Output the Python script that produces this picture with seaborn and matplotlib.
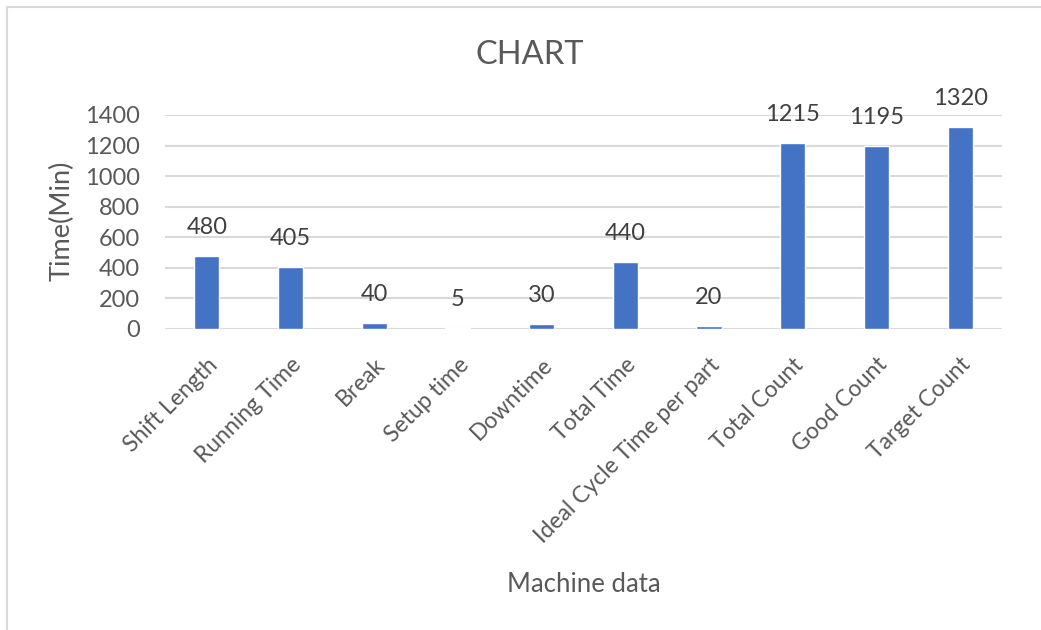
import pandas as pd
import seaborn as sns
import matplotlib.pyplot as plt
from matplotlib.lines import Line2D

# Chart data
categories = ['Shift Length', 'Running Time', 'Break', 'Setup time', 'Downtime',
              'Total Time', 'Ideal Cycle Time per part', 'Total Count', 'Good Count',
              'Target Count']
values = [480, 405, 40, 5, 30, 440, 20, 1215, 1195, 1320]
y_ticks = [0, 200, 400, 600, 800, 1000, 1200, 1400]

df = pd.DataFrame({'item': categories, 'value': values})

sns.set_theme(style='white')
plt.rcParams['font.family'] = ['Lato', 'DejaVu Sans']

text_color = '#595959'
grid_color = '#d9d9d9'
bar_color = '#4472C4'

fig = plt.figure(figsize=(10.41, 6.30), dpi=100)
ax = fig.add_axes([0.1585, 0.4778, 0.804, 0.3397])

sns.barplot(data=df, x='item', y='value', color=bar_color, width=0.3,
            saturation=1, ax=ax, zorder=3)

ax.set_ylim(0, 1400)
ax.set_yticks(y_ticks)
ax.set_xlim(-0.5, len(categories) - 0.5)
ax.grid(axis='y', color=grid_color, linewidth=1.5, zorder=0)
for s in ax.spines.values():
    s.set_visible(False)
ax.tick_params(axis='y', length=0, labelsize=17, colors=text_color, pad=18)
ax.tick_params(axis='x', length=0, labelsize=16.5, colors=text_color, pad=18)
plt.setp(ax.get_xticklabels(), rotation=45, ha='right', rotation_mode='anchor')

# data labels above bars
for i, v in enumerate(values):
    ax.annotate(str(v), (i, v), xytext=(0, 20.5), textcoords='offset points',
                ha='center', va='center', fontsize=17, color='#404040')

ax.set_ylabel('Time(Min)', fontsize=19.5, color=text_color)
ax.yaxis.set_label_coords(-0.108, 0.505)
ax.set_xlabel('Machine data', fontsize=18.5, color=text_color, labelpad=18)

fig.text(0.509, 1 - 55 / 630, 'CHART', ha='center', va='center',
         fontsize=23.5, color=text_color)

# light chart border (left and top edges visible)
fig.add_artist(Line2D([7 / 1041, 7 / 1041], [0, 1 - 7 / 630], color=grid_color,
                      linewidth=1.5, transform=fig.transFigure))
fig.add_artist(Line2D([7 / 1041, 1], [1 - 7 / 630, 1 - 7 / 630], color=grid_color,
                      linewidth=1.5, transform=fig.transFigure))

fig.savefig('out.png', dpi=100)
